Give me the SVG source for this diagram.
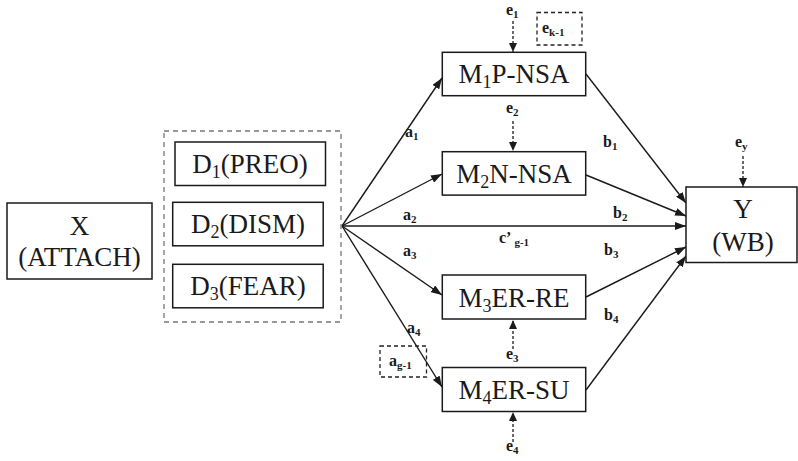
<svg xmlns="http://www.w3.org/2000/svg" width="798" height="461" viewBox="0 0 798 461">
<style>
.box{fill:#fff;stroke:#1a1a1a;stroke-width:1.5}
.dbox{fill:none;stroke:#222;stroke-width:1.3;stroke-dasharray:4,3}
.gbox{fill:none;stroke:#777;stroke-width:1.3;stroke-dasharray:5,4}
.big{font-family:"Liberation Serif","Times New Roman",serif;font-size:27px;fill:#1a1a1a;text-anchor:middle}
.sm{font-family:"Liberation Serif","Times New Roman",serif;font-size:16px;font-weight:bold;fill:#1a1a1a}
.sub{font-size:11px}
.ln{stroke:#1a1a1a;stroke-width:1.4;fill:none}
.dl{stroke:#1a1a1a;stroke-width:1.3;fill:none;stroke-dasharray:3,2}
</style>
<defs>
<marker id="ah" markerUnits="userSpaceOnUse" markerWidth="11" markerHeight="8" refX="11" refY="4" orient="auto">
<path d="M0,0 L11,4 L0,8 z" fill="#1a1a1a"/>
</marker>
<marker id="dh" markerUnits="userSpaceOnUse" markerWidth="9" markerHeight="8" refX="9" refY="4" orient="auto">
<path d="M0,0 L9,4 L0,8 z" fill="#1a1a1a"/>
</marker>
</defs>

<g id="connectors">
<line class="ln" x1="342" y1="226" x2="442" y2="78" marker-end="url(#ah)"/>
<line class="ln" x1="342" y1="226" x2="442" y2="174" marker-end="url(#ah)"/>
<line class="ln" x1="342" y1="226" x2="686" y2="226" marker-end="url(#ah)"/>
<line class="ln" x1="342" y1="226" x2="442" y2="295" marker-end="url(#ah)"/>
<line class="ln" x1="342" y1="226" x2="442" y2="387" marker-end="url(#ah)"/>
<line class="ln" x1="586" y1="74" x2="686" y2="203" marker-end="url(#ah)"/>
<line class="ln" x1="586" y1="175" x2="686" y2="216" marker-end="url(#ah)"/>
<line class="ln" x1="586" y1="297" x2="686" y2="247" marker-end="url(#ah)"/>
<line class="ln" x1="586" y1="390" x2="686" y2="256" marker-end="url(#ah)"/>
<line class="dl" x1="513" y1="21" x2="513" y2="52" marker-end="url(#dh)"/>
<line class="dl" x1="513" y1="121" x2="513" y2="151" marker-end="url(#dh)"/>
<line class="dl" x1="513" y1="349" x2="513" y2="320" marker-end="url(#dh)"/>
<line class="dl" x1="513" y1="442" x2="513" y2="412" marker-end="url(#dh)"/>
<line class="dl" x1="743" y1="156" x2="743" y2="187" marker-end="url(#dh)"/>
<text class="sm" x="405" y="137">a<tspan class="sub" dy="3">1</tspan></text>
<text class="sm" x="403" y="220">a<tspan class="sub" dy="3">2</tspan></text>
<text class="sm" x="403" y="256">a<tspan class="sub" dy="3">3</tspan></text>
<text class="sm" x="407" y="333">a<tspan class="sub" dy="3">4</tspan></text>
<text class="sm" x="603" y="147">b<tspan class="sub" dy="3">1</tspan></text>
<text class="sm" x="613" y="218">b<tspan class="sub" dy="3">2</tspan></text>
<text class="sm" x="604" y="255">b<tspan class="sub" dy="3">3</tspan></text>
<text class="sm" x="604" y="320">b<tspan class="sub" dy="3">4</tspan></text>
<text class="sm" x="499" y="243">c’<tspan class="sub" dx="3" dy="3">g-1</tspan></text>
<text class="sm" x="506" y="15">e<tspan class="sub" dy="3">1</tspan></text>
<text class="sm" x="506" y="113">e<tspan class="sub" dy="3">2</tspan></text>
<text class="sm" x="506" y="359">e<tspan class="sub" dy="3">3</tspan></text>
<text class="sm" x="506" y="451">e<tspan class="sub" dy="3">4</tspan></text>
<text class="sm" x="735" y="147">e<tspan class="sub" dy="3">y</tspan></text>
</g>

<g id="ek1">
<rect class="dbox" x="537" y="12.5" width="45" height="32.5"/>
<text class="sm" x="542" y="33">e<tspan class="sub" dy="3">k-1</tspan></text>
</g>
<g id="ag1">
<rect class="dbox" x="380" y="346" width="46.5" height="31"/>
<text class="sm" x="389" y="366">a<tspan class="sub" dy="3">g-1</tspan></text>
</g>

<g id="X">
<rect class="box" x="7" y="203" width="145" height="76"/>
<text class="big" x="79.5" y="235">X</text>
<text class="big" x="79.5" y="266">(ATTACH)</text>
</g>

<g id="D">
<rect class="gbox" x="164" y="131" width="177" height="191"/>
<g id="D1">
<rect class="box" x="175" y="142" width="150.5" height="43.5"/>
<text class="big" x="250" y="173">D<tspan font-size="18" dy="5">1</tspan><tspan dy="-5">(PREO)</tspan></text>
</g>
<g id="D2">
<rect class="box" x="172.7" y="202.3" width="150.5" height="43.5"/>
<text class="big" x="248" y="233">D<tspan font-size="18" dy="5">2</tspan><tspan dy="-5">(DISM)</tspan></text>
</g>
<g id="D3">
<rect class="box" x="172.7" y="264.3" width="150.5" height="43.5"/>
<text class="big" x="248" y="295">D<tspan font-size="18" dy="5">3</tspan><tspan dy="-5">(FEAR)</tspan></text>
</g>
</g>

<g id="M1">
<rect class="box" x="442.3" y="52.3" width="143.4" height="43.4"/>
<text class="big" x="514" y="83">M<tspan font-size="18" dy="5">1</tspan><tspan dy="-5">P-NSA</tspan></text>
</g>
<g id="M2">
<rect class="box" x="442.3" y="151.7" width="143.4" height="43.4"/>
<text class="big" x="514" y="182.5">M<tspan font-size="18" dy="5">2</tspan><tspan dy="-5">N-NSA</tspan></text>
</g>
<g id="M3">
<rect class="box" x="442.3" y="275" width="143.4" height="44"/>
<text class="big" x="514" y="306.5">M<tspan font-size="18" dy="5">3</tspan><tspan dy="-5">ER-RE</tspan></text>
</g>
<g id="M4">
<rect class="box" x="442.3" y="367.5" width="143.4" height="44"/>
<text class="big" x="514" y="399">M<tspan font-size="18" dy="5">4</tspan><tspan dy="-5">ER-SU</tspan></text>
</g>

<g id="Y">
<rect class="box" x="686" y="187" width="111" height="75.5"/>
<text class="big" x="743" y="218">Y</text>
<text class="big" x="743" y="250.5">(WB)</text>
</g>
</svg>
